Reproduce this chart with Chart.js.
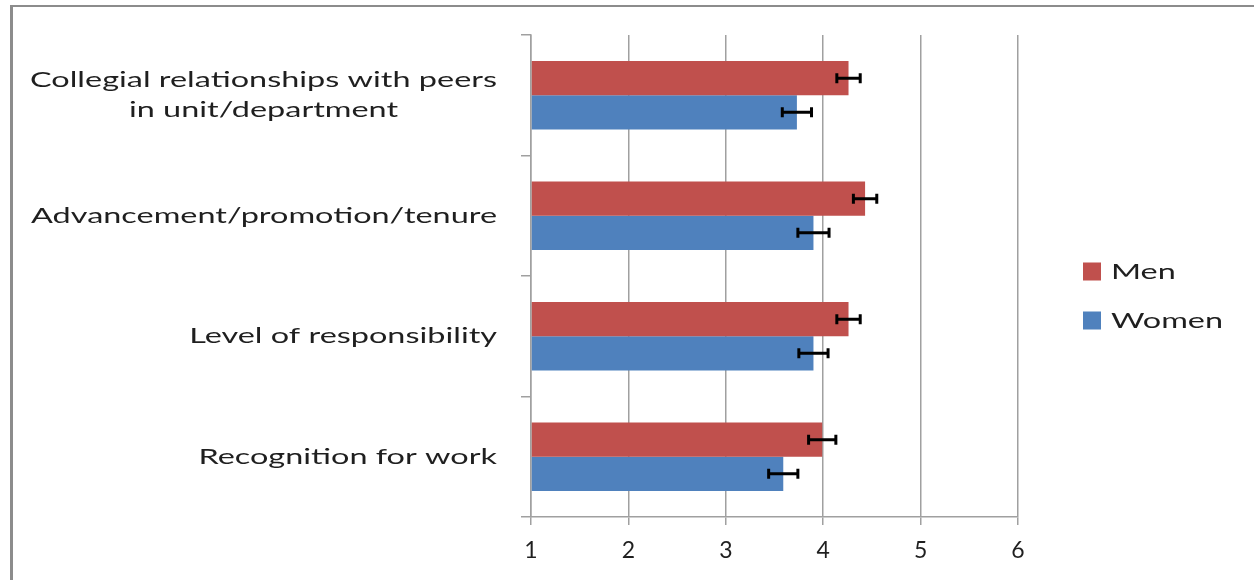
<!DOCTYPE html>
<html>
<head>
<meta charset="utf-8">
<script src="https://cdn.jsdelivr.net/npm/chart.js@4.4.1/dist/chart.umd.min.js"></script>
<style>
  html, body { margin: 0; padding: 0; background: #fff; overflow: hidden; }
  .frame { position: absolute; left: 10px; top: 5px; width: 1400px; height: 800px;
           border-left: 3px solid #8c8c8c; border-top: 2px solid #8c8c8c; }
  .wrap { position: absolute; left: 0; top: 0; width: 1254px; height: 580px; }
</style>
</head>
<body>
<div class="frame"></div>
<div class="wrap"><canvas id="chart"></canvas></div>
<script>
// data
const categories = [
    ["Collegial relationships with peers", "in unit/department"],
    ["Advancement/promotion/tenure"],
    ["Level of responsibility"],
    ["Recognition for work"]
];
const seriesNames = ["Men", "Women"];
const menValues = [4.26, 4.43, 4.26, 3.99];
const menErrors = [0.12, 0.12, 0.12, 0.14];
const womenValues = [3.73, 3.90, 3.90, 3.59];
const womenErrors = [0.15, 0.16, 0.15, 0.15];
const xTicks = [1, 2, 3, 4, 5, 6];

const textColor = '#1f1f1f';
const gridColor = '#a0a0a0';
const labelFont = '22px Lato';

// the labels in the original are drawn quite wide, so stretch them a bit
function stretch(ctx) {
    ctx.font = labelFont;
    let widest = 0;
    categories.forEach(lines => lines.forEach(t => {
        widest = Math.max(widest, ctx.measureText(t).width);
    }));
    return 467 / widest;
}

function drawText(ctx, text, x, y, align, sx) {
    ctx.save();
    ctx.translate(x, y);
    ctx.scale(sx, 1);
    ctx.textAlign = align;
    ctx.textBaseline = 'middle';
    ctx.fillText(text, 0, 0);
    ctx.restore();
}

const extrasPlugin = {
    id: 'extras',
    afterDatasetsDraw(chart) {
        const ctx = chart.ctx;
        const x = chart.scales.x;
        ctx.save();
        ctx.strokeStyle = '#000';
        ctx.lineWidth = 3;
        chart.data.datasets.forEach((ds, di) => {
            const meta = chart.getDatasetMeta(di);
            meta.data.forEach((bar, i) => {
                const lo = x.getPixelForValue(ds.data[i] - ds.errors[i]);
                const hi = x.getPixelForValue(ds.data[i] + ds.errors[i]);
                ctx.beginPath();
                ctx.moveTo(lo, bar.y); ctx.lineTo(hi, bar.y);
                ctx.moveTo(lo, bar.y - 5); ctx.lineTo(lo, bar.y + 5);
                ctx.moveTo(hi, bar.y - 5); ctx.lineTo(hi, bar.y + 5);
                ctx.stroke();
            });
        });
        ctx.restore();
    },
    afterDraw(chart) {
        const ctx = chart.ctx;
        const y = chart.scales.y;
        const sx = stretch(ctx);
        ctx.save();
        ctx.font = labelFont;
        ctx.fillStyle = textColor;

        // category labels, right aligned as a block, lines centred in the block
        chart.data.labels.forEach((lines, i) => {
            const cy = y.getPixelForTick(i);
            let w = 0;
            lines.forEach(t => { w = Math.max(w, ctx.measureText(t).width * sx); });
            const right = chart.chartArea.left - 34;
            const cx = right - w / 2;
            lines.forEach((t, li) => {
                drawText(ctx, t, cx, cy + (li - (lines.length - 1) / 2) * 30, 'center', sx);
            });
        });

        // legend
        chart.data.datasets.forEach((ds, di) => {
            const ly = 271.5 + di * 49;
            ctx.fillStyle = ds.backgroundColor;
            ctx.fillRect(1083, ly - 9, 18, 18);
            ctx.fillStyle = textColor;
            drawText(ctx, ds.label, 1111, ly, 'left', sx);
        });
        ctx.restore();
    }
};

new Chart(document.getElementById('chart'), {
    type: 'bar',
    data: {
        labels: categories,
        datasets: [
            {
                label: seriesNames[0],
                data: menValues,
                errors: menErrors,
                base: 1,
                backgroundColor: '#C0504D',
                barPercentage: 1,
                categoryPercentage: 0.568
            },
            {
                label: seriesNames[1],
                data: womenValues,
                errors: womenErrors,
                base: 1,
                backgroundColor: '#4F81BD',
                barPercentage: 1,
                categoryPercentage: 0.568
            }
        ]
    },
    options: {
        indexAxis: 'y',
        responsive: true,
        maintainAspectRatio: false,
        animation: false,
        layout: { padding: { left: 0, top: 35, right: 236, bottom: 0 } },
        plugins: {
            legend: { display: false },
            tooltip: { enabled: false }
        },
        scales: {
            x: {
                min: xTicks[0],
                max: xTicks[xTicks.length - 1],
                afterBuildTicks: scale => { scale.ticks = xTicks.map(v => ({ value: v })); },
                afterFit: scale => { scale.height = 63; },
                grid: { color: gridColor, lineWidth: 1.5, tickLength: 8 },
                border: { color: gridColor, width: 1.5 },
                ticks: {
                    color: textColor,
                    padding: 12,
                    font: { family: 'Lato', size: 23 }
                }
            },
            y: {
                afterFit: scale => { scale.width = 531; },
                grid: { drawOnChartArea: false, color: gridColor, lineWidth: 1.5, tickLength: 10 },
                border: { color: gridColor, width: 1.5 },
                ticks: { display: false }
            }
        }
    },
    plugins: [extrasPlugin]
});
</script>
</body>
</html>
